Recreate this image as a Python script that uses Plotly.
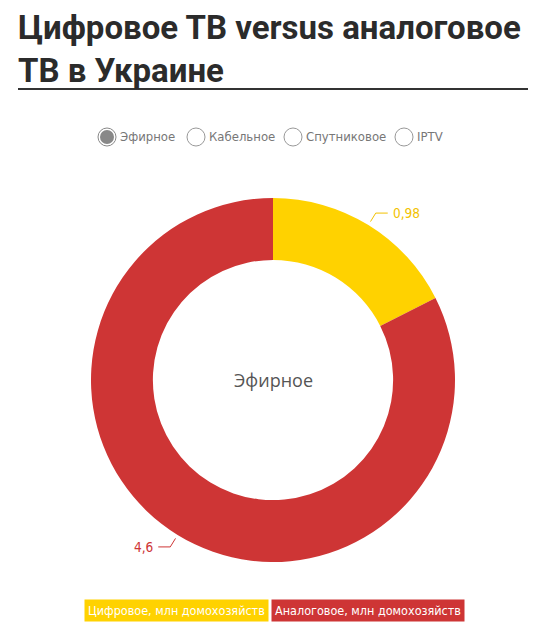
"""Цифровое ТВ versus аналоговое ТВ в Украине — donut chart (Plotly HTML)."""

import math

import plotly.graph_objects as go

W, H = 554, 633

categories = ["Цифровое, млн домохозяйств", "Аналоговое, млн домохозяйств"]
values = [0.98, 4.6]
value_labels = ["0,98", "4,6"]
colors = ["#FFD200", "#CE3535"]
text_colors = ["#F2C200", "#CE3535"]
tabs = ["Эфирное", "Кабельное", "Спутниковое", "IPTV"]
active_tab = "Эфирное"

NARROW = "Liberation Sans Narrow, DejaVu Sans Condensed, sans-serif"

# donut geometry in pixels
cx, cy, r_out = 273, 380, 182


def px(x):
    return x / W


def py(y):
    return 1 - y / H


fig = go.Figure()
fig.add_trace(
    go.Pie(
        labels=categories,
        values=values,
        marker=dict(colors=colors, line=dict(width=0)),
        hole=0.66,
        sort=False,
        direction="clockwise",
        rotation=0,
        textinfo="none",
        hoverinfo="label+value",
        showlegend=False,
        domain=dict(x=[px(cx - r_out), px(cx + r_out)], y=[py(cy + r_out), py(cy - r_out)]),
    )
)

shapes = []
annotations = []

# leader lines + value labels, placed at the middle of each slice
total = sum(values)
acc = 0.0
for v, lab, tc in zip(values, value_labels, text_colors):
    mid = (acc + v / 2) / total * 2 * math.pi
    acc += v
    sx, sy = math.sin(mid), -math.cos(mid)
    x0, y0 = cx + (r_out + 4) * sx, cy + (r_out + 4) * sy
    x1, y1 = cx + (r_out + 14) * sx, cy + (r_out + 14) * sy
    side = 1 if sx >= 0 else -1
    x2 = x1 + side * 12
    shapes.append(
        dict(
            type="path",
            xref="paper",
            yref="paper",
            path=f"M {px(x0)} {py(y0)} L {px(x1)} {py(y1)} L {px(x2)} {py(y1)}",
            line=dict(color=tc, width=1),
        )
    )
    annotations.append(
        dict(
            x=px(x2 + side * 3),
            y=py(y1),
            xref="paper",
            yref="paper",
            text=lab,
            showarrow=False,
            xanchor="left" if side > 0 else "right",
            yanchor="middle",
            font=dict(family=NARROW, size=13.5, color=tc),
        )
    )

# centre label
annotations.append(
    dict(
        x=px(cx), y=py(cy), xref="paper", yref="paper", text=active_tab,
        showarrow=False, font=dict(family="Open Sans, sans-serif", size=18, color="#555"),
    )
)

# title (two lines) + underline
annotations.append(
    dict(
        x=px(16), y=py(6), xref="paper", yref="paper", xanchor="left", yanchor="top",
        align="left", showarrow=False,
        text="<b>Цифровое ТВ versus аналоговое<br>ТВ в Украине</b>",
        font=dict(family="Roboto, sans-serif", size=33, color="#2b2b2b"),
    )
)
shapes.append(
    dict(type="line", xref="paper", yref="paper", x0=px(18), x1=px(528), y0=py(89), y1=py(89),
         line=dict(color="#333", width=2))
)

# radio buttons row
radio_x = [107, 196, 293, 404]
for tx, name in zip(radio_x, tabs):
    on = name == active_tab
    shapes.append(
        dict(type="circle", xref="paper", yref="paper",
             x0=px(tx - 9), x1=px(tx + 9), y0=py(137 + 9), y1=py(137 - 9),
             line=dict(color="#888" if on else "#999", width=1), fillcolor="white")
    )
    if on:
        shapes.append(
            dict(type="circle", xref="paper", yref="paper",
                 x0=px(tx - 7), x1=px(tx + 7), y0=py(137 + 7), y1=py(137 - 7),
                 line=dict(width=0), fillcolor="#888")
        )
    annotations.append(
        dict(x=px(tx + 11), y=py(137), xref="paper", yref="paper", text=name, showarrow=False,
             xanchor="left", yanchor="middle", font=dict(family=NARROW, size=13, color="#777"))
    )

# legend as coloured tags
for i, (name, col) in enumerate(zip(categories, colors)):
    annotations.append(
        dict(
            x=px(269 if i == 0 else 271), y=py(610), xref="paper", yref="paper", text=name,
            showarrow=False, xanchor="right" if i == 0 else "left", yanchor="middle",
            bgcolor=col, borderpad=3,
            font=dict(family=NARROW, size=12.5, color="white"),
        )
    )

fig.update_layout(
    width=W,
    height=H,
    margin=dict(l=0, r=0, t=0, b=0),
    paper_bgcolor="white",
    plot_bgcolor="white",
    shapes=shapes,
    annotations=annotations,
)

# drop the default body margin so the fixed-size figure sits at the page origin
fig.write_html(
    "out.html",
    config={"displayModeBar": False},
    post_script="document.body.style.margin='0';",
)
